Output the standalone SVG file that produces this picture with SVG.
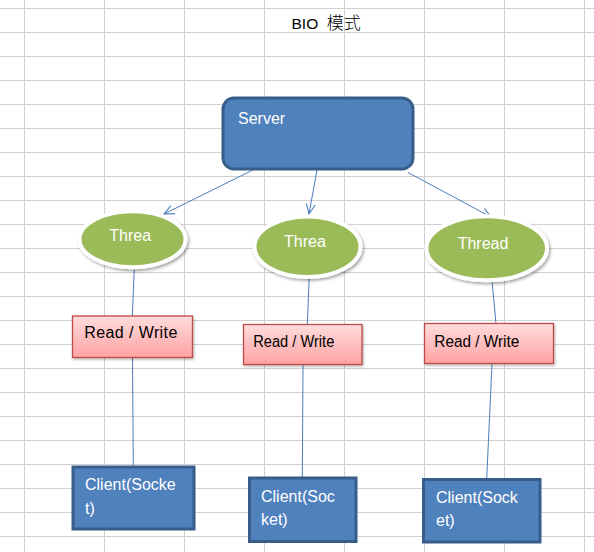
<svg xmlns="http://www.w3.org/2000/svg" width="594" height="552" viewBox="0 0 594 552">
<defs>
<style>
.grid line{stroke:#d0d0d0;stroke-width:1}
.t{font-family:"Liberation Sans","Noto Sans CJK SC",sans-serif;font-size:16px;fill:#fff}
.dk{fill:#000}
.blue{fill:#4f81bd;stroke:#385d8a;stroke-width:3}
.th{fill:#9bbb59;stroke:#fff;stroke-width:4;filter:url(#sh)}
.rw{fill:url(#pink);stroke:#be4b48;stroke-width:1.3;filter:url(#sh2)}
.c line{stroke:#4a7ebb;stroke-width:1;fill:none}
</style>
<linearGradient id="pink" x1="0" y1="0" x2="0" y2="1">
<stop offset="0" stop-color="#ffdcdc"/>
<stop offset="1" stop-color="#ffa2a2"/>
</linearGradient>
<filter id="sh" x="-20%" y="-20%" width="150%" height="150%">
<feDropShadow dx="1.5" dy="2" stdDeviation="1.5" flood-color="#000" flood-opacity="0.35"/>
</filter>
<filter id="sh2" x="-10%" y="-20%" width="130%" height="150%">
<feDropShadow dx="1" dy="1.5" stdDeviation="1" flood-color="#000" flood-opacity="0.3"/>
</filter>
<marker id="arr" markerUnits="userSpaceOnUse" markerWidth="12" markerHeight="12" viewBox="0 0 12 12" refX="11" refY="6" orient="auto">
<path d="M1,1.5 L11,6 L1,10.5" fill="none" stroke="#4a7ebb" stroke-width="1.1"/>
</marker>
</defs>
<rect width="594" height="552" fill="#fff"/>
<g class="grid">
<line x1="24.5" y1="0" x2="24.5" y2="552"/>
<line x1="104.5" y1="0" x2="104.5" y2="552"/>
<line x1="184.5" y1="0" x2="184.5" y2="552"/>
<line x1="264.5" y1="0" x2="264.5" y2="552"/>
<line x1="344.5" y1="0" x2="344.5" y2="552"/>
<line x1="424.5" y1="0" x2="424.5" y2="552"/>
<line x1="504.5" y1="0" x2="504.5" y2="552"/>
<line x1="584.5" y1="0" x2="584.5" y2="552"/>
<line x1="0" y1="8.5" x2="594" y2="8.5"/>
<line x1="0" y1="32.5" x2="594" y2="32.5"/>
<line x1="0" y1="56.5" x2="594" y2="56.5"/>
<line x1="0" y1="80.5" x2="594" y2="80.5"/>
<line x1="0" y1="104.5" x2="594" y2="104.5"/>
<line x1="0" y1="128.5" x2="594" y2="128.5"/>
<line x1="0" y1="152.5" x2="594" y2="152.5"/>
<line x1="0" y1="176.5" x2="594" y2="176.5"/>
<line x1="0" y1="200.5" x2="594" y2="200.5"/>
<line x1="0" y1="224.5" x2="594" y2="224.5"/>
<line x1="0" y1="248.5" x2="594" y2="248.5"/>
<line x1="0" y1="272.5" x2="594" y2="272.5"/>
<line x1="0" y1="296.5" x2="594" y2="296.5"/>
<line x1="0" y1="320.5" x2="594" y2="320.5"/>
<line x1="0" y1="344.5" x2="594" y2="344.5"/>
<line x1="0" y1="368.5" x2="594" y2="368.5"/>
<line x1="0" y1="392.5" x2="594" y2="392.5"/>
<line x1="0" y1="416.5" x2="594" y2="416.5"/>
<line x1="0" y1="440.5" x2="594" y2="440.5"/>
<line x1="0" y1="464.5" x2="594" y2="464.5"/>
<line x1="0" y1="488.5" x2="594" y2="488.5"/>
<line x1="0" y1="512.5" x2="594" y2="512.5"/>
<line x1="0" y1="536.5" x2="594" y2="536.5"/>
</g>
<text id="title" class="t dk" x="291.5" y="29.3" style="font-size:15.5px;white-space:pre">BIO  <tspan style="font-size:17px;font-weight:300">模式</tspan></text>
<g class="c" id="connectors">
<line x1="258" y1="167.5" x2="164" y2="214" marker-end="url(#arr)"/>
<line x1="317" y1="170" x2="309" y2="214" marker-end="url(#arr)"/>
<line x1="408" y1="172.5" x2="491" y2="217" marker-end="url(#arr)"/>
<line x1="134.3" y1="268" x2="132.3" y2="316"/>
<line x1="309.3" y1="275.5" x2="307.3" y2="324.5"/>
<line x1="491.7" y1="277.5" x2="496" y2="323.5"/>
<line x1="132.5" y1="357" x2="133.3" y2="466.5"/>
<line x1="303" y1="364.5" x2="302.3" y2="477.5"/>
<line x1="492" y1="363.5" x2="486.7" y2="479"/>
</g>
<g id="server">
<rect class="blue" x="223" y="98" width="190" height="71" rx="11"/>
<text class="t" x="238" y="124">Server</text>
</g>
<g id="thread1">
<ellipse class="th" cx="132.5" cy="239.2" rx="53" ry="28"/>
<text class="t" x="109.3" y="240.7">Threa</text>
</g>
<g id="thread2">
<ellipse class="th" cx="307.5" cy="246.7" rx="53" ry="30.3"/>
<text class="t" x="284" y="247">Threa</text>
</g>
<g id="thread3">
<ellipse class="th" cx="486.7" cy="248.3" rx="60.3" ry="32"/>
<text class="t" x="457.7" y="249">Thread</text>
</g>
<g id="rw1">
<rect class="rw" x="72.5" y="316" width="120" height="41.5"/>
<text class="t dk" x="84.3" y="337.7" textLength="93">Read / Write</text>
</g>
<g id="rw2">
<rect class="rw" x="243.5" y="324.5" width="118.5" height="40"/>
<text class="t dk" x="253.3" y="347.3" textLength="81" lengthAdjust="spacingAndGlyphs">Read / Write</text>
</g>
<g id="rw3">
<rect class="rw" x="424.5" y="323.5" width="129" height="40"/>
<text class="t dk" x="434.3" y="346.7" textLength="85" lengthAdjust="spacingAndGlyphs">Read / Write</text>
</g>
<g id="client1">
<rect class="blue" x="73" y="467" width="121" height="62"/>
<text class="t" x="85" y="490">Client(Socke</text>
<text class="t" x="85" y="514">t)</text>
</g>
<g id="client2">
<rect class="blue" x="249.5" y="478" width="106.5" height="63.5"/>
<text class="t" x="261" y="501.7">Client(Soc</text>
<text class="t" x="261" y="525">ket)</text>
</g>
<g id="client3">
<rect class="blue" x="423.5" y="479.5" width="116.5" height="62.5"/>
<text class="t" x="436" y="502.7">Client(Sock</text>
<text class="t" x="436" y="526">et)</text>
</g>
</svg>
